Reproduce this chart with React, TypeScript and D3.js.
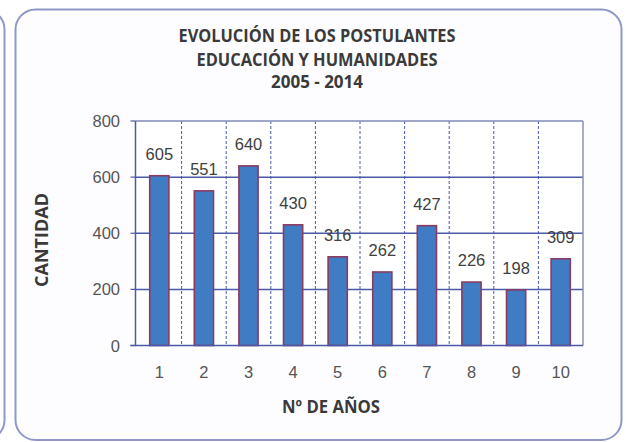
import React from "react";
import * as d3 from "d3";

const categories = ["1", "2", "3", "4", "5", "6", "7", "8", "9", "10"];
const values = [605, 551, 640, 430, 316, 262, 427, 226, 198, 309];
const yTicks = [0, 200, 400, 600, 800];
const titleLines = ["EVOLUCIÓN DE LOS POSTULANTES", "EDUCACIÓN Y HUMANIDADES", "2005 - 2014"];
const xTitle = "Nº DE AÑOS";
const yTitle = "CANTIDAD";

const W = 626;
const H = 442;

export default function App() {
  const x = d3.scaleBand<string>().domain(categories).range([137, 583]).paddingInner(0).paddingOuter(0);
  const y = d3.scaleLinear().domain([0, 800]).range([345.5, 121]);
  const bw = x.bandwidth() * 0.43;
  const left = 135.5;
  const right = x.range()[1];
  const titleFont = "'Liberation Sans Narrow', 'Open Sans', 'DejaVu Sans', sans-serif";
  const numFont = "'Liberation Sans', Arial, sans-serif";
  const titleWidths = [277, 241, 92];
  const titleBaselines = [41.5, 65.5, 88];

  return (
    <svg width={W} height={H} style={{ position: "absolute", left: 0, top: 0 }} xmlns="http://www.w3.org/2000/svg">
      <rect x={0} y={0} width={W} height={H} fill="#ffffff" />
      {/* neighbouring frame sliver */}
      <rect x={-300} y={9.5} width={304.5} height={430.5} rx={20} ry={20} fill="none" stroke="#8e98c8" strokeWidth={2} />
      {/* main frame */}
      <rect x={15.5} y={9.5} width={606} height={430.5} rx={20} ry={20} fill="#fdfdff" stroke="#8e98c8" strokeWidth={2} />

      {/* title */}
      {titleLines.map((t, i) => (
        <text
          key={t}
          x={317}
          y={titleBaselines[i]}
          textAnchor="middle"
          fontFamily={titleFont}
          fontWeight="bold"
          fontSize={18}
          fill="#3a3a3a"
          textLength={titleWidths[i]}
          lengthAdjust="spacingAndGlyphs"
        >
          {t}
        </text>
      ))}

      {/* plot area */}
      <rect x={left} y={y(800)} width={right - left} height={y(0) - y(800)} fill="#ffffff" />

      {/* horizontal gridlines */}
      {yTicks.filter((v) => v > 0 && v < 800).map((v) => (
        <line key={v} x1={left} x2={right} y1={y(v)} y2={y(v)} stroke="#4a5aa8" strokeWidth={1.5} />
      ))}
      {/* vertical dashed gridlines */}
      {categories.slice(1).map((c) => (
        <line
          key={c}
          x1={x(c)!}
          x2={x(c)!}
          y1={y(800)}
          y2={y(0)}
          stroke="#4a5aa8"
          strokeWidth={1}
          strokeDasharray="3,2"
        />
      ))}
      {/* plot border top/right */}
      <line x1={left} x2={right} y1={y(800)} y2={y(800)} stroke="#7f88b8" strokeWidth={1.5} />
      <line x1={right} x2={right} y1={y(800)} y2={y(0)} stroke="#8a90b0" strokeWidth={1.5} />

      {/* bars */}
      {values.map((v, i) => {
        const cx = x(categories[i])! + x.bandwidth() / 2;
        return (
          <rect
            key={i}
            x={cx - bw / 2}
            y={y(v)}
            width={bw}
            height={y(0) - y(v)}
            fill="#3f7cc4"
            stroke="#8b3a62"
            strokeWidth={1.6}
          />
        );
      })}

      {/* axes */}
      <line x1={left} x2={left} y1={y(800)} y2={y(0)} stroke="#4a5aa8" strokeWidth={1.5} />
      <line x1={left - 5} x2={right} y1={y(0)} y2={y(0)} stroke="#4a5aa8" strokeWidth={1.5} />
      {yTicks.map((v) => (
        <g key={v}>
          <line x1={left - 5} x2={left} y1={y(v)} y2={y(v)} stroke="#4a5aa8" strokeWidth={1.2} />
          <text x={120} y={y(v) + 6} textAnchor="end" fontFamily={numFont} fontSize={16.5} fill="#555555">
            {v}
          </text>
        </g>
      ))}

      {/* x tick labels */}
      {categories.map((c) => (
        <text
          key={c}
          x={x(c)! + x.bandwidth() / 2}
          y={378}
          textAnchor="middle"
          fontFamily={numFont}
          fontSize={16.5}
          fill="#555555"
        >
          {c}
        </text>
      ))}

      {/* data labels */}
      {values.map((v, i) => (
        <text
          key={i}
          x={x(categories[i])! + x.bandwidth() / 2}
          y={y(v) - 16}
          textAnchor="middle"
          fontFamily={numFont}
          fontSize={16.5}
          fill="#404040"
        >
          {v}
        </text>
      ))}

      {/* axis titles */}
      <text
        x={331}
        y={413}
        textAnchor="middle"
        fontFamily={titleFont}
        fontWeight="bold"
        fontSize={18}
        fill="#3a3a3a"
        textLength={98}
        lengthAdjust="spacingAndGlyphs"
      >
        {xTitle}
      </text>
      <text
        transform="translate(48,240) rotate(-90)"
        textAnchor="middle"
        fontFamily={titleFont}
        fontWeight="bold"
        fontSize={18}
        fill="#3a3a3a"
        textLength={94}
        lengthAdjust="spacingAndGlyphs"
      >
        {yTitle}
      </text>
    </svg>
  );
}
